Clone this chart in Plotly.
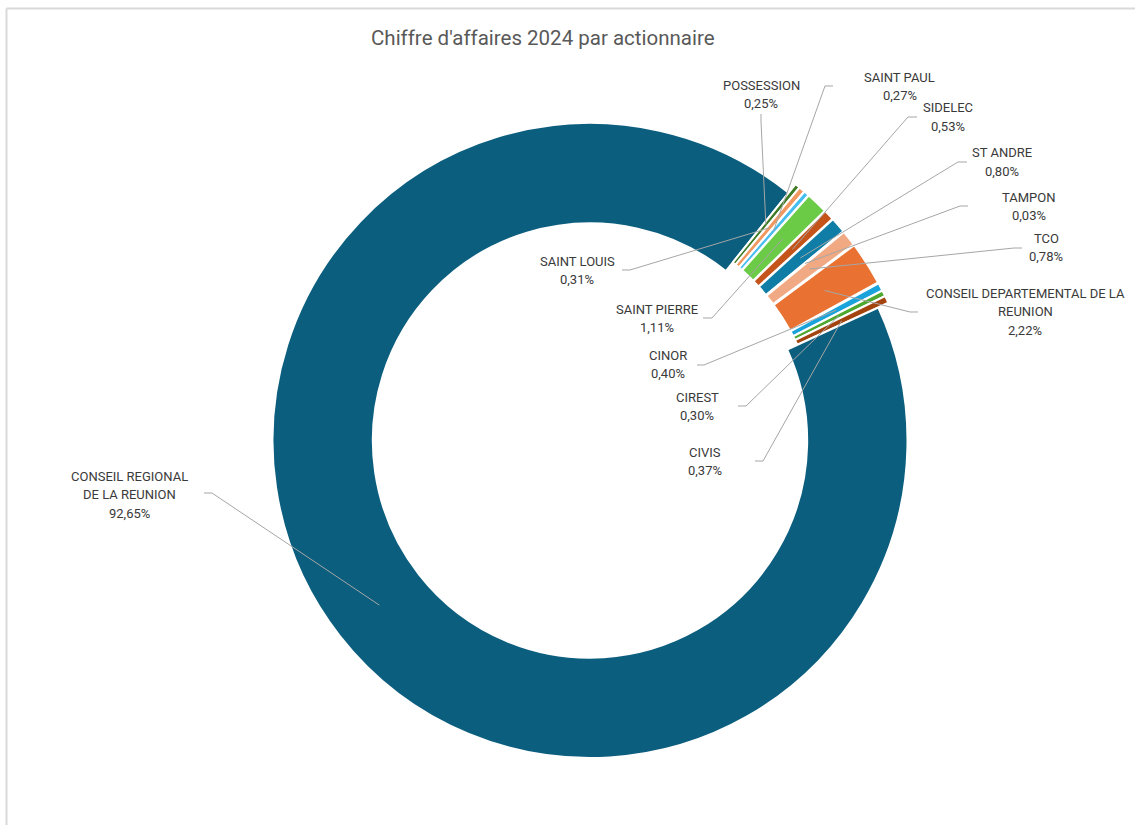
import math
import plotly.graph_objects as go

# ---------------- data ----------------
labels = [
    "CONSEIL DEPARTEMENTAL DE LA REUNION", "CINOR", "CIREST", "CIVIS",
    "CONSEIL REGIONAL DE LA REUNION", "POSSESSION", "SAINT LOUIS", "SAINT PAUL",
    "SAINT PIERRE", "SIDELEC", "ST ANDRE", "TAMPON", "TCO",
]
shares = [2.22, 0.40, 0.30, 0.37, 92.65, 0.25, 0.31, 0.27, 1.11, 0.53, 0.80, 0.03, 0.78]
title_text = "Chiffre d'affaires 2024 par actionnaire"

# ---------------- style ----------------
colors = [
    "#E97132", "#1AA3DA", "#4EA72E", "#A3440F", "#0B5E7E", "#3D7A23", "#F19860",
    "#45BDEE", "#6BCB47", "#C4541A", "#107DA6", "#8CC45E", "#F1A983",
]
W, H = 1135, 825
OFF = 0                       # body margin removed via post_script
CX, CY = 590.0, 440.5         # pie centre (screen px)
R = 317.5                     # outer radius (px)
HOLE = 0.684
PULL = 0.035
ROTATION = 53.4
LABEL_FONT = "Roboto"
LABEL_SIZE = 13
TITLE_SIZE = 20.5
LINE_H = 18.5

# label layout: name -> (text lines, centre x, first line y, [leader path points from label side])
label_layout = {
    "CONSEIL DEPARTEMENTAL DE LA REUNION": (["CONSEIL DEPARTEMENTAL DE LA", "REUNION"], 1025, 293, [(918, 312), (910, 312)]),
    "CINOR": (["CINOR"], 668, 355, [(697, 365), (704, 365)]),
    "CIREST": (["CIREST"], 697, 397, [(738, 406), (746, 406)]),
    "CIVIS": (["CIVIS"], 705, 452, [(755, 461), (763, 461)]),
    "CONSEIL REGIONAL DE LA REUNION": (["CONSEIL REGIONAL", "DE LA REUNION"], 129, 476, [(204, 493), (212, 493)]),
    "POSSESSION": (["POSSESSION"], 761, 85, [(761, 114), (761, 121)]),
    "SAINT LOUIS": (["SAINT LOUIS"], 577, 261, [(622, 270), (630, 270)]),
    "SAINT PAUL": (["SAINT PAUL"], 900, 77, [(833, 86), (825, 86)]),
    "SAINT PIERRE": (["SAINT PIERRE"], 657, 309, [(703, 318), (712, 318)]),
    "SIDELEC": (["SIDELEC"], 948, 108, [(917, 117), (908, 117)]),
    "ST ANDRE": (["ST ANDRE"], 1002, 153, [(967, 162), (958, 162)]),
    "TAMPON": (["TAMPON"], 1029, 197, [(968, 206), (960, 206)]),
    "TCO": (["TCO"], 1046, 238, [(1022, 248), (1014, 248)]),
}

pulls = [PULL if s < 50 else 0.0 for s in shares]
side = 2 * R * (1 + max(pulls))
cxf, cyf = CX - OFF, CY - OFF
dom_x = [(cxf - side / 2) / W, (cxf + side / 2) / W]
dom_y = [1 - (cyf + side / 2) / H, 1 - (cyf - side / 2) / H]

fig = go.Figure(go.Pie(
    labels=labels, values=shares, sort=False, direction="clockwise",
    rotation=ROTATION, hole=HOLE, pull=pulls, textinfo="none",
    marker=dict(colors=colors, line=dict(color="white", width=2)),
    domain=dict(x=dom_x, y=dom_y), showlegend=False, hoverinfo="label+percent",
))


def px(x, y):
    return (x - OFF) / W, 1 - (y - OFF) / H


def fmt_pct(v):
    return f"{v:.2f}".replace(".", ",") + "%"


shapes = []
annotations = []
total = sum(shares)
cum = 0.0
r_mid = R * (1 + HOLE) / 2
for name, val, pl in zip(labels, shares, pulls):
    a0 = ROTATION + cum / total * 360
    cum += val
    a1 = ROTATION + cum / total * 360
    am = math.radians((a0 + a1) / 2)
    rr = r_mid + pl * R
    ax_ = CX + rr * math.sin(am)
    ay_ = CY - rr * math.cos(am)
    lines, lx, ly, pts = label_layout[name]
    all_pts = pts + [(ax_, ay_)]
    path = "M " + " L ".join(f"{px(x, y)[0]:.5f},{px(x, y)[1]:.5f}" for x, y in all_pts)
    shapes.append(dict(type="path", path=path, xref="paper", yref="paper",
                       line=dict(color="#A6A6A6", width=1)))
    text_lines = lines + [fmt_pct(val)]
    for i, t in enumerate(text_lines):
        xx, yy = px(lx, ly + i * LINE_H)
        annotations.append(dict(text=t, x=xx, y=yy, xref="paper", yref="paper",
                                xanchor="center", yanchor="middle", showarrow=False,
                                font=dict(family=LABEL_FONT, size=LABEL_SIZE, color="#3A3A3A")))

# chart frame (top and left edges)
fx0, fy0 = px(6.5, 8.5)
shapes.append(dict(type="line", xref="paper", yref="paper", x0=fx0, x1=1.05,
                   y0=fy0, y1=fy0, line=dict(color="#D9D9D9", width=2)))
shapes.append(dict(type="line", xref="paper", yref="paper", x0=fx0, x1=fx0,
                   y0=fy0, y1=-0.05, line=dict(color="#D9D9D9", width=2)))

tx, ty = px(543, 38)
annotations.append(dict(text=title_text, x=tx, y=ty, xref="paper", yref="paper",
                        xanchor="center", yanchor="middle", showarrow=False,
                        font=dict(family=LABEL_FONT, size=TITLE_SIZE, color="#595959")))

fig.update_layout(
    width=W, height=H, margin=dict(l=0, r=0, t=0, b=0),
    paper_bgcolor="white", plot_bgcolor="white",
    shapes=shapes, annotations=annotations,
)

fig.write_html("out.html", config={"displayModeBar": False},
               post_script="document.body.style.margin='0px';")
